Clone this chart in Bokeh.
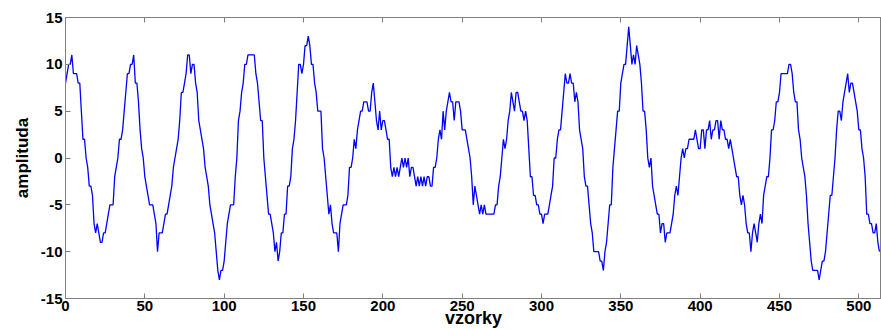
from bokeh.plotting import figure
from bokeh.models import Range1d, LinearAxis, FixedTicker
from bokeh.embed import file_html
from bokeh.resources import INLINE

# amplitude per sample (vzorky 0..513)
amplitude = [
    8, 9, 10, 10, 11, 9, 9, 9, 8, 8,
    5, 2, 2, 0, -1, -3, -3, -4, -7, -8,
    -7, -8, -9, -9, -8, -8, -7, -6, -5, -5,
    -5, -2, -1, 0, 2, 2, 3, 5, 7, 9,
    9, 10, 10, 11, 8, 8, 6, 3, 1, 0,
    -2, -3, -4, -5, -5, -5, -6, -7, -10, -8,
    -8, -8, -7, -6, -6, -5, -4, -3, -1, 0,
    1, 2, 4, 7, 7, 8, 9, 11, 11, 9,
    10, 10, 8, 7, 4, 3, 2, 1, -1, -2,
    -3, -5, -6, -7, -8, -10, -12, -13, -12, -12,
    -11, -9, -7, -6, -5, -5, -5, -2, 0, 4,
    5, 7, 8, 10, 10, 11, 11, 11, 11, 11,
    9, 8, 6, 4, 4, 0, -2, -4, -6, -6,
    -7, -8, -10, -9, -11, -10, -8, -8, -6, -6,
    -3, -3, -2, 1, 2, 4, 7, 10, 10, 9,
    10, 12, 12, 13, 12, 10, 10, 8, 7, 5,
    5, 5, 1, 0, -2, -4, -6, -5, -7, -8,
    -8, -8, -10, -7, -6, -5, -5, -5, -4, -1,
    -1, 0, 2, 1, 3, 4, 5, 5, 6, 6,
    6, 5, 5, 7, 8, 6, 4, 3, 5, 3,
    4, 4, 3, 2, 2, -1, -2, -1, -2, -1,
    -2, -1, 0, -1, 0, -1, 0, -2, -1, -1,
    -2, -3, -2, -3, -2, -3, -2, -3, -2, -2,
    -3, -3, -1, -1, 0, 2, 3, 2, 5, 3,
    5, 6, 7, 6, 6, 4, 6, 6, 6, 5,
    3, 3, 3, 2, 1, 0, -2, -5, -3, -4,
    -5, -6, -5, -6, -5, -6, -6, -6, -6, -6,
    -6, -5, -5, -3, -2, 0, 2, 1, 2, 4,
    5, 7, 6, 5, 7, 7, 6, 5, 5, 4,
    5, 4, 1, -2, -2, -4, -4, -5, -5, -6,
    -6, -7, -6, -6, -6, -5, -4, -3, 0, 0,
    2, 3, 3, 5, 7, 9, 8, 8, 9, 8,
    8, 6, 7, 6, 3, 2, 1, -2, -3, -3,
    -5, -7, -8, -10, -10, -10, -10, -11, -11, -12,
    -10, -9, -7, -5, -5, -1, 1, 3, 5, 5,
    8, 9, 10, 10, 12, 14, 12, 10, 11, 10,
    12, 11, 10, 8, 5, 5, 3, 0, -1, 0,
    -3, -4, -5, -6, -6, -8, -7, -7, -9, -8,
    -8, -8, -7, -6, -4, -3, -4, -2, 0, 1,
    0, 1, 1, 2, 2, 2, 2, 3, 2, 1,
    1, 3, 3, 1, 3, 3, 4, 2, 3, 3,
    4, 4, 2, 4, 3, 3, 2, 2, 1, 2,
    1, 0, -1, -2, -2, -4, -5, -4, -5, -7,
    -8, -8, -10, -8, -7, -8, -9, -7, -6, -7,
    -4, -3, -2, -2, 0, 3, 3, 4, 6, 6,
    7, 9, 9, 9, 9, 9, 10, 10, 9, 7,
    6, 6, 3, 2, 0, -1, -2, -4, -7, -9,
    -11, -12, -12, -12, -12, -13, -12, -11, -11, -10,
    -8, -6, -4, -4, -2, 0, 3, 5, 5, 4,
    6, 7, 8, 9, 7, 8, 8, 7, 6, 5,
    3, 3, 1, 0, -2, -6, -6, -7, -7, -8,
    -8, -7, -9, -10,
]
samples = list(range(len(amplitude)))

x_ticks = [0, 50, 100, 150, 200, 250, 300, 350, 400, 450, 500]
y_ticks = [-15, -10, -5, 0, 5, 10, 15]
y_tick_labels = ["-15", "-10", "-5", "0", "5", "10", "15"]
x_label = "vzorky"
y_label = "amplituda"

FONT = "Liberation Sans"
AXIS_COLOR = "#808080"

p = figure(width=881, height=330, output_backend="svg", toolbar_location=None,
           x_range=Range1d(0, 514.3), y_range=Range1d(-15, 15),
           min_border_left=65, min_border_right=0, min_border_top=17,
           min_border_bottom=31)
p.background_fill_color = "white"
p.border_fill_color = "white"
p.outline_line_color = AXIS_COLOR
p.grid.visible = False

p.line(samples, amplitude, line_color="#0000ff", line_width=1.3)

for ax in (p.xaxis[0], p.yaxis[0]):
    ax.major_tick_in = 5
    ax.major_tick_out = 0
    ax.minor_tick_line_color = None
    ax.axis_line_color = AXIS_COLOR
    ax.major_tick_line_color = AXIS_COLOR
    ax.major_label_text_font = FONT
    ax.major_label_text_font_style = "bold"
    ax.major_label_text_font_size = "15px"
    ax.major_label_text_color = "black"
    ax.axis_label_text_font = FONT
    ax.axis_label_text_font_style = "bold"
    ax.axis_label_text_color = "black"

p.xaxis[0].ticker = FixedTicker(ticks=x_ticks)
p.yaxis[0].ticker = FixedTicker(ticks=y_ticks)
p.yaxis[0].major_label_overrides = {t: s for t, s in zip(y_ticks, y_tick_labels)}
p.xaxis[0].major_label_standoff = 2
p.yaxis[0].major_label_standoff = 3

p.yaxis[0].axis_label = y_label
p.yaxis[0].axis_label_text_font_size = "17px"
p.yaxis[0].axis_label_standoff = 6

p.xaxis[0].axis_label = x_label
p.xaxis[0].axis_label_text_font_size = "18px"
p.xaxis[0].axis_label_standoff = -6
p.xaxis[0].axis_label_text_line_height = 0.6

top = LinearAxis(ticker=FixedTicker(ticks=x_ticks), major_tick_in=5,
                 major_tick_out=0, minor_tick_line_color=None,
                 axis_line_color=AXIS_COLOR, major_tick_line_color=AXIS_COLOR,
                 major_label_text_color=None, major_label_text_font_size="10px",
                 major_label_standoff=0)
p.add_layout(top, "above")

open("out.html", "w").write(file_html(p, INLINE))
